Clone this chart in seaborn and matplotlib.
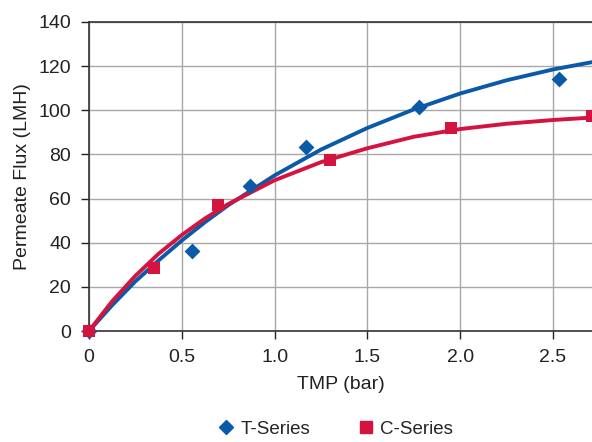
import matplotlib
matplotlib.use('Agg')
import matplotlib.pyplot as plt
from matplotlib.lines import Line2D
import seaborn as sns
import pandas as pd

# Measured points (TMP in bar, flux in LMH)
t_tmp = [0.0, 0.555, 0.867, 1.17, 1.78, 2.53]
t_flux = [0.0, 36.2, 65.7, 83.4, 101.5, 114.2]
c_tmp = [0.0, 0.35, 0.695, 1.30, 1.95, 2.71]
c_flux = [0.0, 28.5, 57.0, 77.5, 92.0, 97.4]

# Trend lines
trend_tmp = [0.0, 0.125, 0.25, 0.375, 0.5, 0.625, 0.75, 1.0, 1.25, 1.5,
             1.75, 2.0, 2.25, 2.5, 2.71]
t_trend = [0.0, 11.7, 22.5, 32.0, 41.0, 49.3, 57.0, 70.5, 82.2, 92.0,
           100.4, 107.6, 113.6, 118.5, 121.8]
c_trend = [0.0, 13.5, 25.0, 35.0, 43.5, 51.0, 57.5, 68.3, 76.5, 82.8,
           88.0, 91.5, 93.9, 95.6, 96.7]

x_ticks = [0, 0.5, 1.0, 1.5, 2.0, 2.5]
x_tick_labels = ['0', '0.5', '1.0', '1.5', '2.0', '2.5']
y_ticks = [0, 20, 40, 60, 80, 100, 120, 140]

BLUE = '#0a5aa8'
RED = '#d4143f'

sns.set_style('white')
plt.rcParams['font.family'] = ['Liberation Sans', 'DejaVu Sans']

t_df = pd.DataFrame({'tmp': t_tmp, 'flux': t_flux})
c_df = pd.DataFrame({'tmp': c_tmp, 'flux': c_flux})
trend_df = pd.DataFrame({'tmp': trend_tmp, 'T': t_trend, 'C': c_trend})

fig = plt.figure(figsize=(5.92, 4.42), dpi=100)
ax = fig.add_axes([89 / 592, 111 / 442, 503 / 592, 309 / 442])

line_style = dict(lw=2.8, solid_joinstyle='round', solid_capstyle='round', zorder=3)
sns.lineplot(data=trend_df, x='tmp', y='T', color=BLUE, ax=ax, **line_style)
sns.lineplot(data=trend_df, x='tmp', y='C', color=RED, ax=ax, **line_style)
sns.scatterplot(data=t_df, x='tmp', y='flux', marker='D', color=BLUE, s=65,
                linewidth=0, ax=ax, zorder=4, clip_on=False)
sns.scatterplot(data=c_df, x='tmp', y='flux', marker='s', color=RED, s=75,
                linewidth=0, ax=ax, zorder=5, clip_on=False)

ax.set_xlim(0, 2.71)
ax.set_ylim(0, 140)
ax.set_xticks(x_ticks)
ax.set_xticklabels(x_tick_labels)
ax.set_yticks(y_ticks)
ax.grid(True, color='#a8a8a8', lw=1)
ax.set_axisbelow(True)
ax.tick_params(axis='both', labelsize=14, colors='#222222', length=6,
               width=1, direction='out', bottom=True, left=True, pad=7)
for side in ['left', 'bottom', 'top']:
    ax.spines[side].set_color('#333333')
    ax.spines[side].set_linewidth(1.2)
ax.spines['right'].set_visible(False)

ax.set_xlabel('TMP (bar)', fontsize=14, color='#222222', labelpad=7)
ax.set_ylabel('Permeate Flux (LMH)', fontsize=14, color='#222222', labelpad=5)

handles = [
    Line2D([], [], marker='D', color=BLUE, ls='none', markersize=7.5),
    Line2D([], [], marker='s', color=RED, ls='none', markersize=8),
]
fig.legend(handles, ['T-Series', 'C-Series'], loc='lower center',
           bbox_to_anchor=(0.566, -0.028), ncol=2, frameon=False,
           fontsize=13.5, handlelength=1.0, handletextpad=0.25,
           columnspacing=2.5)

fig.savefig('out.png', dpi=100)
